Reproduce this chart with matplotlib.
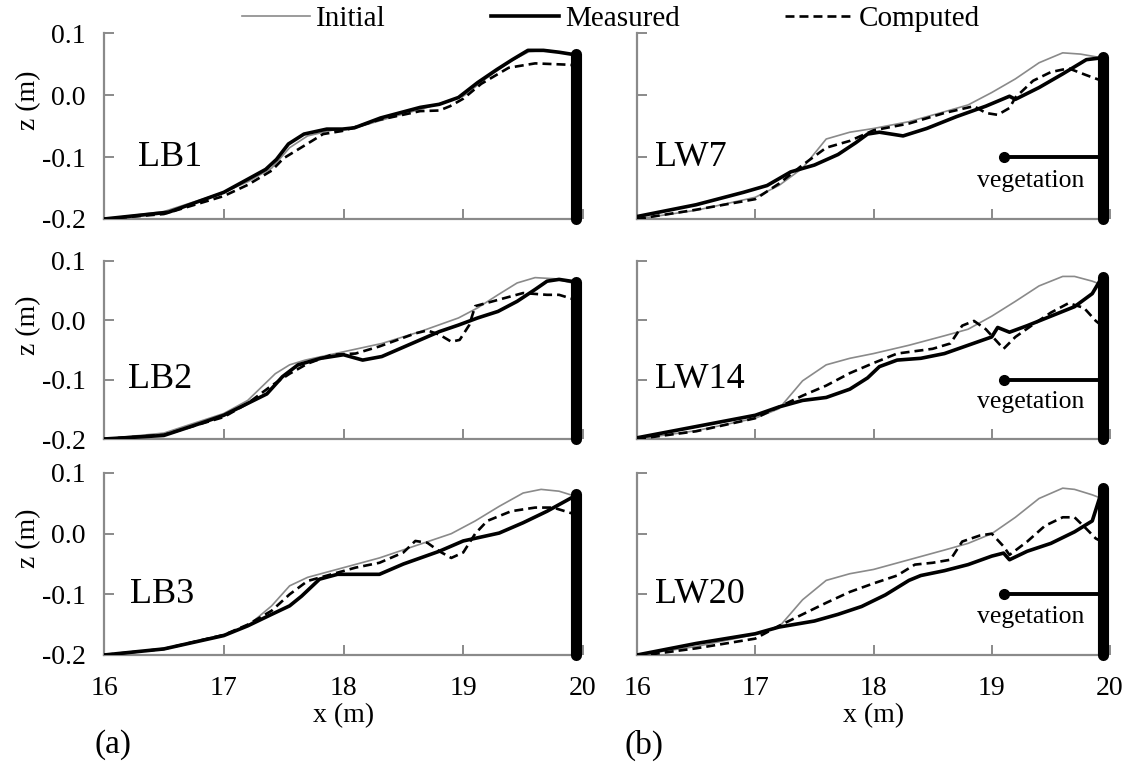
import numpy as np
import matplotlib
matplotlib.use("Agg")
import matplotlib.pyplot as plt
from matplotlib.lines import Line2D

plt.rcParams['font.family'] = ['Liberation Serif', 'DejaVu Serif']

# ---- data (x in m, z in m) ----
panel_names = ['LB1', 'LB2', 'LB3', 'LW7', 'LW14', 'LW20']

# LB1
lb1_init_x = [16.0, 16.5, 17.0, 17.2, 17.4, 17.55, 17.7, 17.9, 18.1, 18.4, 18.7, 19.0, 19.2, 19.4, 19.55, 19.7, 19.85, 19.93]
lb1_init_z = [-0.2, -0.188, -0.157, -0.14, -0.118, -0.085, -0.066, -0.057, -0.053, -0.036, -0.02, -0.002, 0.028, 0.055, 0.07, 0.072, 0.068, 0.065]
lb1_meas_x = [16.0, 16.54, 17.0, 17.18, 17.35, 17.44, 17.54, 17.67, 17.86, 17.99, 18.09, 18.31, 18.64, 18.8, 18.96, 19.12, 19.28, 19.41, 19.54, 19.67, 19.8, 19.93]
lb1_meas_z = [-0.2, -0.189, -0.157, -0.138, -0.12, -0.104, -0.079, -0.063, -0.055, -0.055, -0.053, -0.037, -0.02, -0.015, -0.004, 0.02, 0.041, 0.057, 0.072, 0.072, 0.069, 0.065]
lb1_comp_x = [16.0, 16.5, 17.0, 17.2, 17.4, 17.5, 17.67, 17.83, 17.99, 18.3, 18.64, 18.8, 18.89, 19.0, 19.15, 19.38, 19.6, 19.86, 19.93]
lb1_comp_z = [-0.2, -0.192, -0.163, -0.145, -0.122, -0.102, -0.082, -0.063, -0.058, -0.04, -0.026, -0.025, -0.018, -0.006, 0.018, 0.044, 0.051, 0.049, 0.048]

# LB2
lb2_init_x = [16.0, 16.5, 17.0, 17.2, 17.43, 17.55, 17.68, 18.0, 18.32, 18.64, 18.96, 19.12, 19.29, 19.45, 19.6, 19.77, 19.93]
lb2_init_z = [-0.2, -0.19, -0.157, -0.135, -0.09, -0.075, -0.067, -0.053, -0.039, -0.019, 0.004, 0.021, 0.043, 0.063, 0.072, 0.07, 0.062]
lb2_meas_x = [16.0, 16.5, 16.8, 17.0, 17.2, 17.36, 17.49, 17.62, 17.81, 18.0, 18.16, 18.32, 18.64, 18.8, 18.96, 19.12, 19.29, 19.45, 19.6, 19.7, 19.8, 19.93]
lb2_meas_z = [-0.2, -0.194, -0.174, -0.16, -0.14, -0.124, -0.095, -0.075, -0.064, -0.058, -0.067, -0.061, -0.033, -0.019, -0.008, 0.004, 0.015, 0.032, 0.052, 0.066, 0.069, 0.065]
lb2_comp_x = [16.0, 16.5, 17.0, 17.2, 17.4, 17.55, 17.7, 17.9, 18.1, 18.3, 18.6, 18.7, 18.8, 18.9, 18.97, 19.05, 19.1, 19.3, 19.5, 19.7, 19.8, 19.93]
lb2_comp_z = [-0.2, -0.193, -0.163, -0.14, -0.11, -0.09, -0.073, -0.058, -0.056, -0.044, -0.022, -0.017, -0.024, -0.036, -0.033, -0.008, 0.024, 0.035, 0.046, 0.043, 0.043, 0.035]

# LB3
lb3_init_x = [16.0, 16.5, 17.0, 17.2, 17.4, 17.55, 17.7, 17.85, 18.0, 18.3, 18.6, 18.9, 19.1, 19.3, 19.5, 19.65, 19.8, 19.93]
lb3_init_z = [-0.2, -0.19, -0.166, -0.152, -0.119, -0.086, -0.072, -0.064, -0.056, -0.04, -0.02, 0.0, 0.021, 0.045, 0.067, 0.073, 0.07, 0.062]
lb3_meas_x = [16.0, 16.5, 17.0, 17.2, 17.4, 17.55, 17.65, 17.8, 17.95, 18.1, 18.3, 18.5, 18.8, 19.0, 19.3, 19.5, 19.7, 19.93]
lb3_meas_z = [-0.2, -0.19, -0.168, -0.152, -0.133, -0.119, -0.103, -0.075, -0.067, -0.067, -0.067, -0.05, -0.029, -0.012, 0.001, 0.018, 0.037, 0.062]
lb3_comp_x = [16.0, 16.5, 17.0, 17.2, 17.4, 17.55, 17.7, 17.9, 18.1, 18.3, 18.5, 18.6, 18.7, 18.8, 18.9, 19.0, 19.1, 19.2, 19.4, 19.6, 19.75, 19.85, 19.93]
lb3_comp_z = [-0.2, -0.19, -0.167, -0.15, -0.127, -0.1, -0.078, -0.067, -0.056, -0.048, -0.031, -0.012, -0.015, -0.029, -0.04, -0.031, 0.0, 0.021, 0.037, 0.043, 0.043, 0.037, 0.032]

# LW7
lw7_init_x = [16.0, 16.5, 17.0, 17.2, 17.4, 17.6, 17.8, 18.0, 18.3, 18.6, 18.8, 19.0, 19.2, 19.4, 19.6, 19.75, 19.93]
lw7_init_z = [-0.2, -0.186, -0.165, -0.146, -0.118, -0.071, -0.06, -0.054, -0.043, -0.027, -0.016, 0.004, 0.026, 0.052, 0.068, 0.066, 0.06]
lw7_meas_x = [16.0, 16.5, 16.9, 17.1, 17.3, 17.5, 17.7, 17.85, 17.95, 18.05, 18.25, 18.45, 18.7, 18.95, 19.15, 19.2, 19.4, 19.6, 19.8, 19.93]
lw7_meas_z = [-0.196, -0.177, -0.157, -0.146, -0.124, -0.113, -0.096, -0.077, -0.063, -0.06, -0.066, -0.054, -0.035, -0.018, -0.002, -0.007, 0.012, 0.034, 0.057, 0.06]
lw7_comp_x = [16.0, 16.5, 17.0, 17.2, 17.4, 17.6, 17.8, 18.0, 18.3, 18.6, 18.85, 18.95, 19.05, 19.15, 19.2, 19.35, 19.5, 19.65, 19.8, 19.93]
lw7_comp_z = [-0.2, -0.185, -0.168, -0.143, -0.113, -0.085, -0.074, -0.057, -0.046, -0.029, -0.018, -0.029, -0.032, -0.021, -0.004, 0.023, 0.037, 0.043, 0.032, 0.023]

# LW14
lw14_init_x = [16.0, 16.5, 17.0, 17.2, 17.4, 17.6, 17.8, 18.0, 18.3, 18.6, 18.8, 19.0, 19.2, 19.4, 19.6, 19.7, 19.85, 19.93]
lw14_init_z = [-0.2, -0.186, -0.165, -0.149, -0.102, -0.075, -0.064, -0.056, -0.042, -0.026, -0.015, 0.007, 0.032, 0.058, 0.074, 0.074, 0.066, 0.06]
lw14_meas_x = [16.0, 16.5, 17.0, 17.2, 17.4, 17.6, 17.8, 17.95, 18.05, 18.2, 18.4, 18.6, 18.8, 19.0, 19.05, 19.15, 19.3, 19.5, 19.7, 19.85, 19.93]
lw14_meas_z = [-0.198, -0.179, -0.16, -0.146, -0.135, -0.13, -0.116, -0.097, -0.078, -0.067, -0.064, -0.056, -0.042, -0.028, -0.012, -0.02, -0.009, 0.007, 0.023, 0.045, 0.072]
lw14_comp_x = [16.0, 16.5, 17.0, 17.2, 17.4, 17.6, 17.8, 18.0, 18.2, 18.5, 18.65, 18.75, 18.85, 18.95, 19.05, 19.1, 19.2, 19.35, 19.5, 19.65, 19.78, 19.88, 19.93]
lw14_comp_z = [-0.2, -0.187, -0.165, -0.146, -0.127, -0.11, -0.089, -0.072, -0.056, -0.048, -0.039, -0.009, -0.001, -0.015, -0.037, -0.048, -0.028, -0.007, 0.013, 0.029, 0.021, -0.001, -0.009]

# LW20
lw20_init_x = [16.0, 16.5, 17.0, 17.2, 17.4, 17.6, 17.8, 18.0, 18.3, 18.6, 18.8, 19.0, 19.2, 19.4, 19.6, 19.7, 19.85, 19.93]
lw20_init_z = [-0.2, -0.186, -0.166, -0.154, -0.109, -0.077, -0.066, -0.059, -0.043, -0.027, -0.016, 0.0, 0.027, 0.058, 0.075, 0.073, 0.064, 0.058]
lw20_meas_x = [16.0, 16.5, 17.0, 17.2, 17.5, 17.7, 17.9, 18.1, 18.3, 18.4, 18.6, 18.8, 19.0, 19.1, 19.15, 19.3, 19.5, 19.7, 19.85, 19.93]
lw20_meas_z = [-0.2, -0.181, -0.165, -0.154, -0.144, -0.133, -0.12, -0.101, -0.077, -0.069, -0.061, -0.051, -0.037, -0.032, -0.043, -0.029, -0.016, 0.003, 0.021, 0.07]
lw20_comp_x = [16.0, 16.5, 17.0, 17.2, 17.4, 17.6, 17.8, 18.0, 18.2, 18.35, 18.5, 18.65, 18.75, 18.9, 19.0, 19.1, 19.15, 19.3, 19.45, 19.6, 19.7, 19.8, 19.88, 19.93]
lw20_comp_z = [-0.202, -0.189, -0.173, -0.152, -0.133, -0.114, -0.096, -0.082, -0.069, -0.051, -0.048, -0.043, -0.013, -0.003, 0.0, -0.021, -0.035, -0.013, 0.013, 0.027, 0.027, 0.008, -0.008, -0.013]

initial = [(lb1_init_x, lb1_init_z), (lb2_init_x, lb2_init_z), (lb3_init_x, lb3_init_z),
           (lw7_init_x, lw7_init_z), (lw14_init_x, lw14_init_z), (lw20_init_x, lw20_init_z)]
measured = [(lb1_meas_x, lb1_meas_z), (lb2_meas_x, lb2_meas_z), (lb3_meas_x, lb3_meas_z),
            (lw7_meas_x, lw7_meas_z), (lw14_meas_x, lw14_meas_z), (lw20_meas_x, lw20_meas_z)]
computed = [(lb1_comp_x, lb1_comp_z), (lb2_comp_x, lb2_comp_z), (lb3_comp_x, lb3_comp_z),
            (lw7_comp_x, lw7_comp_z), (lw14_comp_x, lw14_comp_z), (lw20_comp_x, lw20_comp_z)]

wall_x = 19.94
wall_top = [0.066, 0.065, 0.065, 0.061, 0.073, 0.075]
veg_start = 19.1
veg_z = -0.1
label_x = [16.28, 16.2, 16.22, 16.15, 16.15, 16.15]
x_ticks = [16, 17, 18, 19, 20]
y_ticks = [-0.2, -0.1, 0.0, 0.1]
y_ticklabels = ['-0.2', '-0.1', '0.0', '0.1']

W, H = 1131, 774
fig = plt.figure(figsize=(W / 100, H / 100), dpi=100)

# axes boxes in pixels
col_px = [(104, 583), (637, 1110)]
row_px = [(33, 219), (261, 439), (473, 655)]

gray = '#8a8a8a'
dash = (0, (3.4, 1.9))
for i in range(6):
    col = i // 3
    row = i % 3
    l, r = col_px[col]
    t, b = row_px[row]
    ax = fig.add_axes([l / W, 1 - b / H, (r - l) / W, (b - t) / H])

    xi, zi = initial[i]
    xm, zm = measured[i]
    xc, zc = computed[i]
    ax.plot(xi, zi, color=gray, lw=1.2, zorder=2)
    ax.plot(xm, zm, color='black', lw=2.6, zorder=3)
    ax.plot(xc, zc, color='black', lw=1.9, ls=dash, zorder=4)

    # seawall
    ax.plot([wall_x, wall_x], [-0.2, wall_top[i]], color='black', lw=8,
            solid_capstyle='round', clip_on=False, zorder=5)

    if col == 1:
        ax.plot([veg_start, wall_x], [veg_z, veg_z], color='black', lw=2.8, zorder=5)
        ax.plot([veg_start], [veg_z], 'o', color='black', ms=7, zorder=5)
        ax.text(19.33, -0.138, 'vegetation', fontsize=18.5, ha='center', va='center')

    ax.text(label_x[i], -0.1, panel_names[i], fontsize=26, ha='left', va='center')

    ax.set_xlim(16, 20)
    ax.set_ylim(-0.2, 0.1)
    ax.set_xticks(x_ticks)
    ax.set_yticks(y_ticks)
    for s in ['top', 'right']:
        ax.spines[s].set_visible(False)
    for s in ['left', 'bottom']:
        ax.spines[s].set_color(gray)
        ax.spines[s].set_linewidth(1.6)
    ax.spines['bottom'].set_bounds(16, wall_x)
    ax.tick_params(direction='in', length=7, width=1.4, color=gray,
                   labelsize=20, pad=13)
    if col == 0:
        ax.set_yticklabels(y_ticklabels)
        ax.set_ylabel('z (m)', fontsize=20)
        ax.yaxis.set_label_coords(-0.132, 0.64)
    else:
        ax.set_yticklabels([])
    if row == 2:
        ax.set_xticklabels([str(v) for v in x_ticks])
        ax.tick_params(axis='x', pad=15)
        ax.set_xlabel('x (m)', fontsize=20)
        ax.xaxis.set_label_coords(0.5, -0.265)
    else:
        ax.set_xticklabels([])

# legend along the top
handles = [Line2D([], [], color=gray, lw=1.2),
           Line2D([], [], color='black', lw=2.6),
           Line2D([], [], color='black', lw=1.9, ls=dash)]
fig.legend(handles, ['Initial', 'Measured', 'Computed'], loc='center',
           bbox_to_anchor=(611 / W, 1 - 19 / H), ncol=3, frameon=False,
           fontsize=21, handlelength=2.35, handletextpad=0.2, columnspacing=3.6)

fig.text(113 / W, 1 - 745 / H, '(a)', fontsize=24, ha='center', va='center')
fig.text(644 / W, 1 - 745 / H, '(b)', fontsize=24, ha='center', va='center')

fig.savefig('out.png', dpi=100)
